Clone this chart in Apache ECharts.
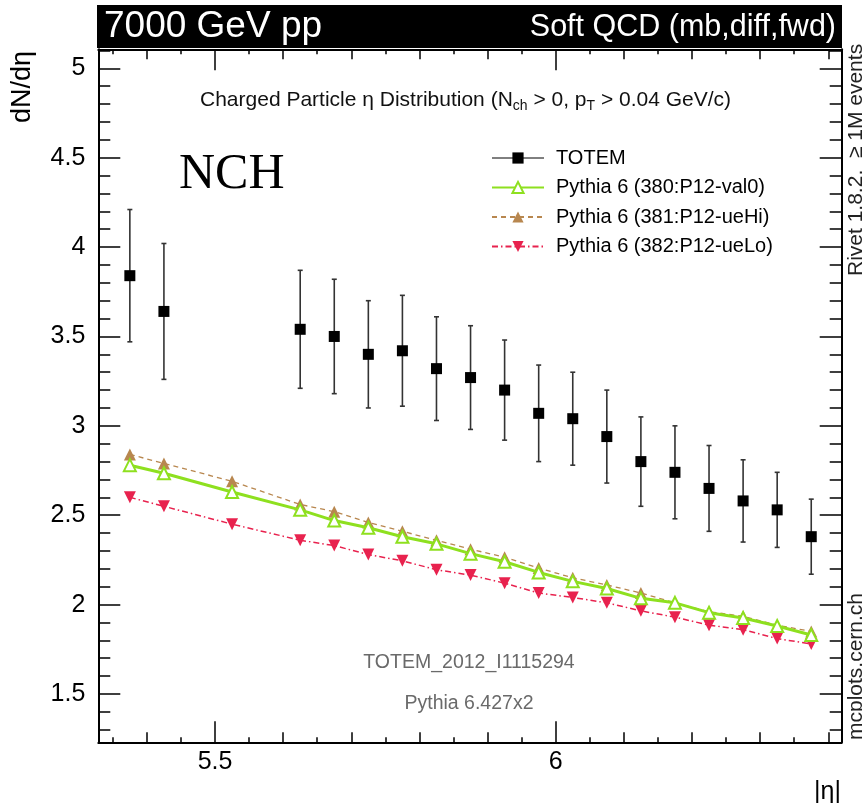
<!DOCTYPE html>
<html><head><meta charset="utf-8">
<script src="https://cdn.jsdelivr.net/npm/echarts@6/dist/echarts.min.js"></script>
<style>html,body{margin:0;padding:0;background:#fff}#c{width:862px;height:803px}</style>
</head><body><div id="c"></div>
<script>
// ---- data ----
const etaPythia = [5.375,5.425,5.525,5.625,5.675,5.725,5.775,5.825,5.875,5.925,5.975,6.025,6.075,6.125,6.175,6.225,6.275,6.325,6.375];
const etaTotem  = [5.375,5.425,5.625,5.675,5.725,5.775,5.825,5.875,5.925,5.975,6.025,6.075,6.125,6.175,6.225,6.275,6.325,6.375];
const totem     = [3.84,3.64,3.54,3.50,3.40,3.42,3.32,3.27,3.20,3.07,3.04,2.94,2.80,2.74,2.65,2.58,2.53,2.38];
const totemErr  = [0.37,0.38,0.33,0.32,0.30,0.31,0.29,0.29,0.28,0.27,0.26,0.26,0.25,0.26,0.24,0.23,0.21,0.21];
const val0      = [2.78,2.735,2.63,2.53,2.47,2.43,2.38,2.34,2.285,2.24,2.18,2.13,2.09,2.035,2.01,1.955,1.925,1.88,1.83];
const ueHi      = [2.84,2.79,2.69,2.56,2.52,2.46,2.41,2.36,2.31,2.265,2.205,2.15,2.11,2.065,2.01,1.96,1.935,1.885,1.85];
const ueLo      = [2.60,2.55,2.45,2.36,2.33,2.28,2.245,2.195,2.165,2.12,2.065,2.04,2.01,1.965,1.93,1.885,1.86,1.81,1.78];
const xTickLabels = [5.5, 6];
const yTickLabels = [1.5, 2, 2.5, 3, 3.5, 4, 4.5, 5];
const seriesNames = ['TOTEM','Pythia 6 (380:P12-val0)','Pythia 6 (381:P12-ueHi)','Pythia 6 (382:P12-ueLo)'];

const xMin = 5.3287, xMax = 6.4197, yMin = 1.2298, yMax = 5.1063;
// minor tick positions
const xMid = [], xSmall = [], yMinor = [];
for (let k = 107; k <= 128; k++) { const v = k * 0.05; if (k % 10 === 0) continue; if (k % 2 === 0) xMid.push(+v.toFixed(2)); else xSmall.push(+v.toFixed(2)); }
for (let k = 13; k <= 51; k++) { if (k % 5 === 0) continue; yMinor.push(+(k * 0.1).toFixed(1)); }

const FONT = "'Liberation Sans', Arial, sans-serif";
const pairs = (xs, ys) => xs.map((x, i) => [x, ys[i]]);

function xAx(pos, ticks, len, showLine, showLabel) {
  return {
    type: 'value', position: pos, min: xMin, max: xMax, gridIndex: 0,
    axisLine: { show: showLine, onZero: false, lineStyle: { color: '#000', width: 2 } },
    splitLine: { show: false },
    axisTick: { show: true, inside: true, length: len, customValues: ticks, lineStyle: { color: '#000', width: 1.5 } },
    axisLabel: showLabel ? { show: true, customValues: xTickLabels, fontSize: 25, fontFamily: FONT, color: '#000', margin: 7 } : { show: false }
  };
}
function yAx(pos, ticks, len, showLine, showLabel) {
  return {
    type: 'value', position: pos, min: yMin, max: yMax, gridIndex: 0,
    axisLine: { show: showLine, onZero: false, lineStyle: { color: '#000', width: 2 } },
    splitLine: { show: false },
    axisTick: { show: true, inside: true, length: len, customValues: ticks, lineStyle: { color: '#000', width: 1.5 } },
    axisLabel: showLabel ? { show: true, customValues: yTickLabels, fontSize: 25, fontFamily: FONT, color: '#000', margin: 13 } : { show: false }
  };
}

const chart = echarts.init(document.getElementById('c'), null, { renderer: 'canvas' });
chart.setOption({
  animation: false,
  backgroundColor: '#fff',
  grid: { left: 98.3, right: 20.3, top: 49.3, bottom: 60.7, containLabel: false },
  xAxis: [
    xAx('bottom', xTickLabels, 21, true, true),
    xAx('bottom', xMid, 10, false, false),
    xAx('bottom', xSmall, 5, false, false),
    xAx('top', xTickLabels, 21, true, false),
    xAx('top', xMid, 10, false, false),
    xAx('top', xSmall, 5, false, false)
  ],
  yAxis: [
    yAx('left', yTickLabels, 22, true, true),
    yAx('left', yMinor, 12, false, false),
    yAx('right', yTickLabels, 22, true, false),
    yAx('right', yMinor, 12, false, false)
  ],
  legend: {
    orient: 'vertical', left: 491, top: 148, padding: 0, itemWidth: 52, itemHeight: 14, itemGap: 9.5,
    textStyle: { fontSize: 20, fontFamily: FONT, color: '#000', padding: [0, 0, 0, 7] },
    data: [
      { name: seriesNames[0], lineStyle: { width: 1, color: '#000', opacity: 1, type: 'solid' } },
      seriesNames[1], seriesNames[2], seriesNames[3]
    ]
  },
  series: [
    {
      name: seriesNames[1], type: 'line', data: pairs(etaPythia, val0),
      symbol: 'triangle', symbolSize: 12,
      lineStyle: { color: '#8ee01f', width: 3 },
      itemStyle: { color: '#ffffff', borderColor: '#8ee01f', borderWidth: 2 },
      z: 3
    },
    {
      name: seriesNames[2], type: 'line', data: pairs(etaPythia, ueHi),
      symbol: 'triangle', symbolSize: 12,
      lineStyle: { color: '#b8874f', width: 1.3, type: [5, 4] },
      itemStyle: { color: '#b8874f' },
      z: 2
    },
    {
      name: seriesNames[3], type: 'line', data: pairs(etaPythia, ueLo),
      symbol: 'triangle', symbolRotate: 180, symbolSize: 12,
      lineStyle: { color: '#e8224e', width: 1.5, type: [6, 3, 1.5, 3] },
      itemStyle: { color: '#e8224e' },
      z: 2
    },
    {
      name: 'err', type: 'custom', encode: { x: 0, y: 1 },
      data: etaTotem.map((x, i) => [x, totem[i], totemErr[i]]),
      renderItem: (params, api) => {
        const x = api.value(0), y = api.value(1), e = api.value(2);
        const p = api.coord([x, y + e]), q = api.coord([x, y - e]);
        const c = 2.5;
        const st = { stroke: '#333', lineWidth: 1.6 };
        return { type: 'group', children: [
          { type: 'line', shape: { x1: p[0], y1: p[1], x2: q[0], y2: q[1] }, style: st },
          { type: 'line', shape: { x1: p[0] - c, y1: p[1], x2: p[0] + c, y2: p[1] }, style: st },
          { type: 'line', shape: { x1: q[0] - c, y1: q[1], x2: q[0] + c, y2: q[1] }, style: st }
        ] };
      },
      z: 4
    },
    {
      name: seriesNames[0], type: 'line', data: pairs(etaTotem, totem),
      symbol: 'rect', symbolSize: 11, showSymbol: true,
      lineStyle: { width: 0, opacity: 0 },
      itemStyle: { color: '#000' },
      z: 5
    }
  ],
  graphic: [
    { type: 'rect', left: 97, top: 5, shape: { width: 745, height: 43 }, style: { fill: '#000' }, z: 10 },
    { type: 'text', left: 104, top: 8, style: { text: '7000 GeV pp', fill: '#fff', font: "37px " + FONT }, z: 11 },
    { type: 'text', right: 26, top: 12, style: { text: 'Soft QCD (mb,diff,fwd)', fill: '#fff', font: "30.5px " + FONT }, z: 11 },
    { type: 'text', x: 9, y: 123, rotation: Math.PI / 2, style: { text: 'dN/dη', fill: '#000', font: "27px " + FONT, textVerticalAlign: 'top' }, z: 11 },
    { type: 'text', x: 846, y: 276, rotation: Math.PI / 2, style: { text: 'Rivet 1.8.2,  ≥ 1M events', fill: '#222', font: "21px " + FONT, textVerticalAlign: 'top' }, z: 11 },
    { type: 'text', x: 846, y: 740, rotation: Math.PI / 2, style: { text: 'mcplots.cern.ch', fill: '#222', font: "21px " + FONT, textVerticalAlign: 'top' }, z: 11 },
    { type: 'text', left: 179, top: 150, style: { text: 'NCH', fill: '#000', font: "50px 'Liberation Serif', 'Times New Roman', serif" }, z: 11 },
    { type: 'text', left: 200, top: 87, style: {
        text: 'Charged Particle η Distribution (N{sub|ch} > 0, p{sub|T} > 0.04 GeV/c)',
        fill: '#111', font: "21px " + FONT, lineHeight: 26,
        rich: { sub: { fontSize: 14, fontFamily: FONT, verticalAlign: 'bottom', lineHeight: 14, fill: '#111' } }
      }, z: 11 },
    { type: 'text', x: 469, y: 663, style: { text: 'TOTEM_2012_I1115294', fill: '#6a6a6a', font: "19.5px " + FONT, align: 'center', verticalAlign: 'middle' }, z: 11 },
    { type: 'text', x: 469, y: 704, style: { text: 'Pythia 6.427x2', fill: '#6a6a6a', font: "19.5px " + FONT, align: 'center', verticalAlign: 'middle' }, z: 11 },
    { type: 'text', right: 21, top: 780, style: { text: '|η|', fill: '#000', font: "25px " + FONT }, z: 11 }
  ]
});
</script>
</body></html>
